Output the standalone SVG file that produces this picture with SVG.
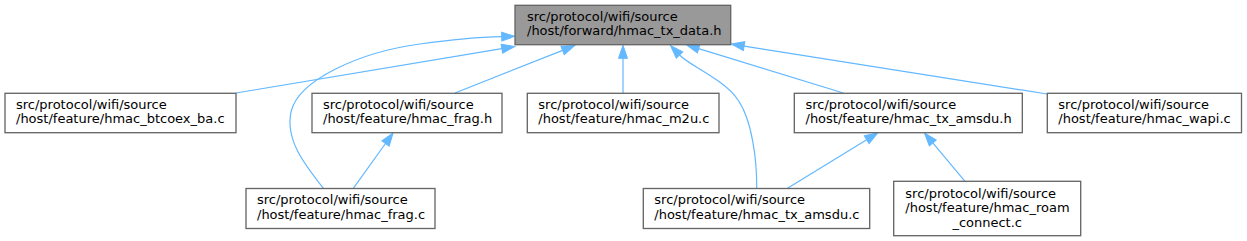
<svg xmlns="http://www.w3.org/2000/svg" width="1247" height="241" viewBox="0 0 1247 241">
<style>
.box{fill:#ffffff;stroke:#666666;stroke-width:1.33}
.root{fill:#999999;stroke:#666666;stroke-width:1.33}
text{font-family:"DejaVu Sans",sans-serif;font-size:13px;fill:#000000}
.e{fill:none;stroke:#63b8ff;stroke-width:1.2;marker-end:url(#arr)}
</style>
<defs>
<marker id="arr" markerUnits="userSpaceOnUse" viewBox="0 -4.7 13.3 9.4" refX="0" refY="0" markerWidth="13.3" markerHeight="9.4" orient="auto" overflow="visible">
<path d="M0,-4.5 L13,0 L0,4.5 z" fill="#63b8ff" stroke="#63b8ff" stroke-width="1"/>
</marker>
</defs>
<rect width="1247" height="241" fill="#ffffff"/>
<g id="edges">
<path class="e" d="M236,93 L501.9,48.7"/>
<path class="e" d="M323.5,188.5 C305,165 285,140 291,112 C298,80 360,52 420,44 C455,39 480,37 501.7,36.6"/>
<path class="e" d="M455,93 L562.6,50.4"/>
<path class="e" d="M623,93 L623,58.3"/>
<path class="e" d="M756.7,188.7 C757,160 752,120 738,100 C725,80 690,66 679.5,55"/>
<path class="e" d="M843.3,93 L698.7,48.6"/>
<path class="e" d="M1047,94 L744.1,46.1"/>
<path class="e" d="M353.3,188.3 L385.5,143.5"/>
<path class="e" d="M786.7,188.7 L866.7,139.7"/>
<path class="e" d="M965,181.3 L932.8,142.9"/>
</g>
<g id="node_root">
<rect class="root" x="515" y="5.3" width="215.7" height="39.4"/>
<text x="527" y="20.7">src/protocol/wifi/source</text>
<text x="527" y="35.3">/host/forward/hmac_tx_data.h</text>
</g>
<g id="node_btcoex">
<rect class="box" x="5" y="93.3" width="231" height="39.4"/>
<text x="16" y="108.8">src/protocol/wifi/source</text>
<text x="16" y="123.4">/host/feature/hmac_btcoex_ba.c</text>
</g>
<g id="node_frag_h">
<rect class="box" x="312" y="93.3" width="190" height="39.4"/>
<text x="323" y="108.8">src/protocol/wifi/source</text>
<text x="323" y="123.4">/host/feature/hmac_frag.h</text>
</g>
<g id="node_m2u">
<rect class="box" x="527.3" y="93.3" width="191.7" height="39.4"/>
<text x="538.3" y="108.8">src/protocol/wifi/source</text>
<text x="538.3" y="123.4">/host/feature/hmac_m2u.c</text>
</g>
<g id="node_tx_amsdu_h">
<rect class="box" x="794.3" y="93.3" width="228" height="39.4"/>
<text x="805.5" y="108.8">src/protocol/wifi/source</text>
<text x="805.5" y="123.4">/host/feature/hmac_tx_amsdu.h</text>
</g>
<g id="node_wapi">
<rect class="box" x="1047.3" y="93.3" width="194.2" height="39.4"/>
<text x="1058.3" y="108.8">src/protocol/wifi/source</text>
<text x="1058.3" y="123.4">/host/feature/hmac_wapi.c</text>
</g>
<g id="node_frag_c">
<rect class="box" x="246" y="188.5" width="189" height="40"/>
<text x="257" y="204.2">src/protocol/wifi/source</text>
<text x="257" y="218.8">/host/feature/hmac_frag.c</text>
</g>
<g id="node_tx_amsdu_c">
<rect class="box" x="643.3" y="188.5" width="226.4" height="40"/>
<text x="654.3" y="204.2">src/protocol/wifi/source</text>
<text x="654.3" y="218.8">/host/feature/hmac_tx_amsdu.c</text>
</g>
<g id="node_roam">
<rect class="box" x="893.7" y="181.3" width="187" height="54.4"/>
<text x="905.3" y="197.5">src/protocol/wifi/source</text>
<text x="905.3" y="212.2">/host/feature/hmac_roam</text>
<text x="987.2" y="226.8" text-anchor="middle">_connect.c</text>
</g>
</svg>
